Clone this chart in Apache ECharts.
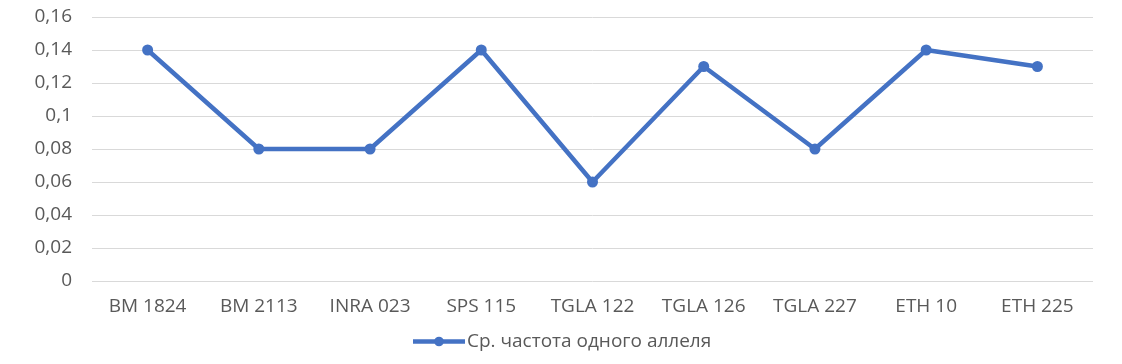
<!DOCTYPE html>
<html><head><meta charset="utf-8">
<script src="https://cdn.jsdelivr.net/npm/echarts@6/dist/echarts.min.js"></script>
<style>html,body{margin:0;padding:0;background:#fff}#c{width:1122px;height:364px}</style>
</head><body><div id="c"></div>
<script>
const categories = ['BM 1824','BM 2113','INRA 023','SPS 115','TGLA 122','TGLA 126','TGLA 227','ETH 10','ETH 225'];
const values = [0.14,0.08,0.08,0.14,0.06,0.13,0.08,0.14,0.13];
const seriesName = 'Ср. частота одного аллеля';
const chart = echarts.init(document.getElementById('c'));
const font = 'Open Sans, Liberation Sans, sans-serif';
chart.setOption({
  animation:false,
  grid:{left:92,right:29,top:17,bottom:83,containLabel:false},
  legend:{top:327,left:'center',itemWidth:52,itemHeight:12,itemGap:4,
    lineStyle:{width:4.5},
    textStyle:{fontSize:19,color:'#595959',fontFamily:font,padding:[0,0,0,-3]},
    data:[{name:seriesName}]},
  xAxis:{type:'category',data:categories,boundaryGap:true,
    axisLine:{show:false},axisTick:{show:false},
    axisLabel:{fontSize:19,color:'#595959',fontFamily:font,margin:16}},
  yAxis:{type:'value',min:0,max:0.16,interval:0.02,
    axisLabel:{fontSize:19,color:'#595959',fontFamily:font,margin:20,
      formatter:v=>v===0?'0':String(+v.toFixed(2)).replace('.',',')},
    splitLine:{lineStyle:{color:'#d9d9d9',width:1}},
    axisLine:{show:false},axisTick:{show:false}},
  series:[{name:seriesName,type:'line',data:values,
    symbol:'circle',symbolSize:11,
    lineStyle:{color:'#4472C4',width:4.5},
    itemStyle:{color:'#4472C4'}}]
});
</script></body></html>
